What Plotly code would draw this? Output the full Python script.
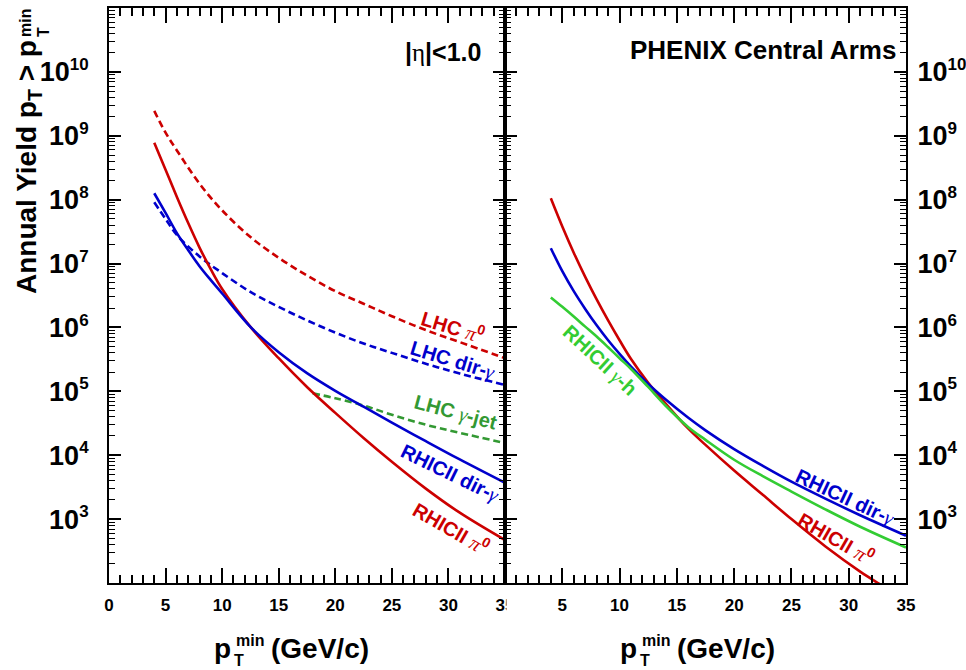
import plotly.graph_objects as go

# ---------------- data ----------------
# Left panel (|eta|<1.0)
x_lhc = [4, 5, 6, 8, 10, 12.5, 15, 17.5, 20, 22.5, 25, 28, 31, 35]
lhc_pi0 = [2.45e9, 1.12e9, 5.9e8, 1.78e8, 6.8e7, 2.6e7, 1.23e7, 6.5e6, 3.7e6,
           2.35e6, 1.5e6, 9.1e5, 5.9e5, 3.3e5]
lhc_dirgamma = [9.1e7, 5.0e7, 2.8e7, 1.29e7, 7.1e6, 3.6e6, 2.1e6, 1.29e6, 8.3e5,
                5.6e5, 4.0e5, 2.7e5, 1.9e5, 1.26e5]

x_rhic = [4, 5, 6, 7, 8, 9, 10, 12.5, 15, 17.5, 20, 22.5, 25, 28, 31, 35]
rhic_pi0_left = [7.8e8, 2.95e8, 1.1e8, 4.3e7, 1.78e7, 8.1e6, 4.0e6, 1.02e6, 3.3e5,
                 1.17e5, 4.6e4, 1.86e4, 7.9e3, 3.0e3, 1.26e3, 4.7e2]
rhic_dirgamma_left = [1.26e8, 6.2e7, 3.0e7, 1.62e7, 9.1e6, 5.5e6, 3.4e6, 1.02e6,
                      4.1e5, 1.93e5, 1.02e5, 5.75e4, 3.24e4, 1.66e4, 8.6e3, 3.7e3]

x_gjet = [18, 20, 22.5, 25, 28, 31, 35]
lhc_gjet = [9.3e4, 7.8e4, 6.0e4, 4.3e4, 3.0e4, 2.24e4, 1.55e4]

# Right panel (PHENIX Central Arms)
x_right_pi0 = [4, 5, 6, 7, 8, 9, 10, 11, 12.5, 14, 16, 17.5, 20, 22.5, 25, 28, 31, 33, 35]
rhic_pi0_right = [1.05e8, 3.8e7, 1.48e7, 6.2e6, 2.75e6, 1.29e6, 6.3e5, 3.2e5, 1.36e5,
                  6.5e4, 2.6e4, 1.45e4, 5.75e3, 2.4e3, 1.0e3, 3.7e2, 1.51e2, 89, 52]
x_right = [4, 5, 6, 7, 8, 9, 10, 11, 12.5, 14, 16, 17.5, 20, 22.5, 25, 28, 31, 35]
rhic_dirgamma_right = [1.74e7, 7.6e6, 3.7e6, 1.95e6, 1.08e6, 6.3e5, 3.85e5, 2.43e5, 1.3e5,
                       7.5e4, 3.85e4, 2.45e4, 1.245e4, 6.8e3, 3.85e3, 2.07e3, 1.15e3, 5.5e2]
rhic_gh_right = [2.95e6, 2.1e6, 1.48e6, 1.03e6, 7.2e5, 4.9e5, 3.3e5, 2.24e5, 1.17e5,
                 6.0e4, 2.75e4, 1.74e4, 8.5e3, 4.7e3, 2.7e3, 1.41e3, 7.6e2, 3.6e2]

x_ticks_left = [0, 5, 10, 15, 20, 25, 30, 35]
x_ticks_right = [5, 10, 15, 20, 25, 30, 35]
y_exponents = [3, 4, 5, 6, 7, 8, 9, 10]

# ---------------- style ----------------
RED = "#cc0000"
BLUE = "#0000cc"
DGREEN = "#339933"
LGREEN = "#33cc33"
FONT = "Liberation Sans, Arial, sans-serif"
W, H = 966, 670
L, R, T, B = 109, 60, 8, 87
PW, PH = W - L - R, H - T - B
SPLIT = 396 / PW


def px(p):          # screenshot pixel -> paper x
    return (p - L) / PW


def py(p):          # screenshot pixel -> paper y
    return (H - B - p) / PH


fig = go.Figure()


def add_line(x, y, color, dash, xa, ya):
    fig.add_trace(go.Scatter(
        x=x, y=y, mode="lines", xaxis=xa, yaxis=ya, showlegend=False,
        line=dict(color=color, width=2.6, dash=dash, shape="spline", smoothing=1.0),
        hoverinfo="skip"))


add_line(x_lhc, lhc_pi0, RED, "7px,4px", "x", "y")
add_line(x_lhc, lhc_dirgamma, BLUE, "7px,4px", "x", "y")
add_line(x_gjet, lhc_gjet, DGREEN, "7px,4px", "x", "y")
add_line(x_rhic, rhic_pi0_left, RED, "solid", "x", "y")
add_line(x_rhic, rhic_dirgamma_left, BLUE, "solid", "x", "y")

add_line(x_right_pi0, rhic_pi0_right, RED, "solid", "x2", "y2")
add_line(x_right, rhic_dirgamma_right, BLUE, "solid", "x2", "y2")
add_line(x_right, rhic_gh_right, LGREEN, "solid", "x2", "y2")

xcommon = dict(range=[0, 35], ticks="inside", ticklen=15, tickwidth=1.5, tickcolor="black",
               showline=True, linewidth=2, linecolor="black", mirror="ticks",
               showgrid=False, zeroline=False, ticklabelstandoff=6, automargin=False,
               tickfont=dict(family=FONT, size=17, color="black", weight="bold"),
               minor=dict(ticks="inside", ticklen=8, tickwidth=1.5, tickcolor="black",
                          dtick=1, showgrid=False))
ycommon = dict(type="log", range=[2, 11], ticks="inside", ticklen=12, tickwidth=1.5,
               tickcolor="black", showline=True, linewidth=2, linecolor="black",
               mirror="ticks", showgrid=False, zeroline=False, automargin=False,
               tickvals=[10 ** e for e in y_exponents],
               ticktext=["10<sup><span style=\"font-size:17px\">%d</span></sup>" % e
                         for e in y_exponents],
               tickfont=dict(family=FONT, size=27, color="black", weight="bold"),
               minor=dict(ticks="inside", ticklen=6, tickwidth=1.2, tickcolor="black",
                          dtick="D1", showgrid=False))

fig.update_layout(
    width=W, height=H, margin=dict(l=L, r=R, t=T, b=B, autoexpand=False),
    paper_bgcolor="white", plot_bgcolor="white",
    xaxis=dict(domain=[0, SPLIT], anchor="y", tickvals=x_ticks_left, **xcommon),
    xaxis2=dict(domain=[SPLIT, 1], anchor="y2", tickvals=x_ticks_right, **xcommon),
    yaxis=dict(domain=[0, 1], anchor="x", side="left", ticklabelstandoff=13, **ycommon),
    yaxis2=dict(domain=[0, 1], anchor="x2", side="right", ticklabelstandoff=4, **ycommon),
)

ann = []


def text(x, y, s, size, color="black", angle=0, xanchor="center", yanchor="middle"):
    ann.append(dict(x=px(x), y=py(y), xref="paper", yref="paper", text=s,
                    showarrow=False, textangle=angle, xanchor=xanchor, yanchor=yanchor,
                    font=dict(family=FONT, size=size, color=color, weight="bold")))


def greek(c):
    return ("<span style=\"font-family:'Liberation Serif';font-style:italic;"
            "font-weight:normal\">%s</span>" % c)


# x titles (p_T^min stacked)
for off in (0, 406):
    text(233 + off, 648, "p", 28, xanchor="right")
    text(234 + off, 640, "min", 16, xanchor="left")
    text(232 + off, 660, "T", 16, xanchor="left")
    text(269 + off, 648, "(GeV/c)", 28, xanchor="left")

# y title
text(28, 296, "Annual Yield p<sub>T</sub> > p", 28, angle=-90, yanchor="bottom")
text(25, 39, "min", 16, angle=-90, yanchor="bottom")
text(43, 39, "T", 16, angle=-90, yanchor="bottom")

# panel captions
text(483, 52, "|" + "<span style=\"font-family:'Liberation Serif';font-weight:normal\">η</span>" + "|<1.0",
     25, xanchor="right")
text(898, 50, "PHENIX Central Arms", 26, xanchor="right")

# curve labels
text(453, 325, "LHC " + greek("π") + "<sup>0</sup>", 20, RED, 17)
text(453, 360, "LHC dir-" + greek("γ"), 20, BLUE, 17)
text(455, 413, "LHC " + greek("γ") + "-jet", 20, DGREEN, 15)
text(450, 473, "RHICII dir-" + greek("γ"), 20, BLUE, 26)
text(452, 527, "RHICII " + greek("π") + "<sup>0</sup>", 20, RED, 30)
text(600, 360, "RHICII " + greek("γ") + "-h", 20, LGREEN, 43)
text(845, 497, "RHICII dir-" + greek("γ"), 20, BLUE, 25)
text(837, 537, "RHICII " + greek("π") + "<sup>0</sup>", 20, RED, 30)

fig.update_layout(annotations=ann)

# the left panel's last x label is partly hidden by the right panel, as in the original
fig.add_shape(type="rect", xref="paper", yref="paper", layer="above",
              x0=px(506.5), x1=px(521), y0=py(586), y1=py(616),
              fillcolor="white", line=dict(width=0))

fig.write_html("out.html", config={"displayModeBar": False},
               post_script="document.body.style.margin='0px';")
